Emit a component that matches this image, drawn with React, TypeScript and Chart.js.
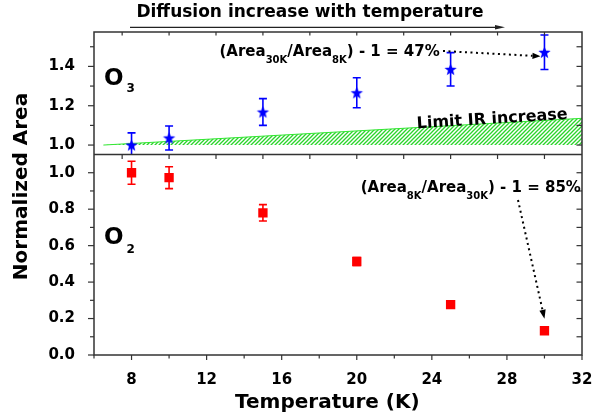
import React, { useEffect, useRef } from 'react';
import { Chart, registerables } from 'chart.js';

Chart.register(...registerables);

// ---- data ----
const temperatures = [8, 10, 15, 20, 25, 30];
const o3Area = [1.0, 1.036, 1.168, 1.266, 1.385, 1.472];
const o3Error = [0.062, 0.061, 0.068, 0.076, 0.085, 0.088];
const o2Area = [1.0, 0.973, 0.78, 0.513, 0.276, 0.133];
const o2Error = [0.063, 0.06, 0.045, 0.022, 0.012, 0.008];
const irLimitT = [6.5, 32];
const irLimitTop = [1.0, 1.136];
const irLimitBase = 1.0;

// ---- ticks ----
const xTickValues = [8, 12, 16, 20, 24, 28, 32];
const xMinorValues = [6, 10, 14, 18, 22, 26, 30];
const xPanelTickValues = [7.5, 10, 12.5, 15, 17.5, 20, 22.5, 25, 27.5, 30];
const o3TickValues = [1.0, 1.2, 1.4];
const o3MinorValues = [1.1, 1.3, 1.5];
const o2TickValues = [0, 0.2, 0.4, 0.6, 0.8, 1.0];
const o2MinorValues = [0.1, 0.3, 0.5, 0.7, 0.9];

const FONT = '"DejaVu Sans", "Liberation Sans", sans-serif';
const FRAME = '#333333';

function makeStar(color: string, R: number, r: number) {
  const c = document.createElement('canvas');
  const s = Math.ceil(R * 2) + 2;
  c.width = s;
  c.height = s;
  const ctx = c.getContext('2d')!;
  ctx.fillStyle = color;
  ctx.beginPath();
  for (let i = 0; i < 10; i++) {
    const rad = i % 2 === 0 ? R : r;
    const a = -Math.PI / 2 + (i * Math.PI) / 5;
    const px = s / 2 + rad * Math.cos(a);
    const py = s / 2 + 0.5 + rad * Math.sin(a);
    if (i === 0) ctx.moveTo(px, py);
    else ctx.lineTo(px, py);
  }
  ctx.closePath();
  ctx.fill();
  return c;
}

function makeHatch() {
  const c = document.createElement('canvas');
  c.width = 4;
  c.height = 4;
  const ctx = c.getContext('2d')!;
  ctx.fillStyle = '#ffffff';
  ctx.fillRect(0, 0, 4, 4);
  ctx.strokeStyle = '#2bd42b';
  ctx.lineWidth = 1.3;
  ctx.beginPath();
  ctx.moveTo(-1, 5);
  ctx.lineTo(5, -1);
  ctx.moveTo(-1, 1);
  ctx.lineTo(1, -1);
  ctx.moveTo(3, 5);
  ctx.lineTo(5, 3);
  ctx.stroke();
  return ctx.createPattern(c, 'repeat');
}

function drawRich(ctx: CanvasRenderingContext2D, x: number, y: number, parts: [string, boolean][]) {
  let cx = x;
  ctx.textAlign = 'left';
  ctx.textBaseline = 'alphabetic';
  for (const [text, sub] of parts) {
    ctx.font = sub ? `bold 10px ${FONT}` : `bold 15px ${FONT}`;
    ctx.fillText(text, cx, sub ? y + 7 : y);
    cx += ctx.measureText(text).width;
  }
}

function drawArrow(
  ctx: CanvasRenderingContext2D,
  x1: number, y1: number, x2: number, y2: number,
  dotted: boolean, headLen: number, headHalf: number, color: string
) {
  const ang = Math.atan2(y2 - y1, x2 - x1);
  const c = Math.cos(ang), s = Math.sin(ang);
  ctx.save();
  ctx.strokeStyle = color;
  ctx.lineWidth = dotted ? 2 : 1.2;
  if (dotted) ctx.setLineDash([2, 3.5]);
  ctx.beginPath();
  ctx.moveTo(x1, y1);
  ctx.lineTo(x2 - headLen * c, y2 - headLen * s);
  ctx.stroke();
  ctx.setLineDash([]);
  ctx.fillStyle = color;
  ctx.beginPath();
  ctx.moveTo(x2, y2);
  ctx.lineTo(x2 - headLen * c + headHalf * s, y2 - headLen * s - headHalf * c);
  ctx.lineTo(x2 - headLen * c - headHalf * s, y2 - headLen * s + headHalf * c);
  ctx.closePath();
  ctx.fill();
  ctx.restore();
}

const errorBarPlugin = {
  id: 'errorBars',
  afterDatasetsDraw(chart: any) {
    const ctx = chart.ctx as CanvasRenderingContext2D;
    const xs = chart.scales.x;
    const panels = [
      { scale: chart.scales.yTop, vals: o3Area, errs: o3Error, color: '#0000ff' },
      { scale: chart.scales.yBottom, vals: o2Area, errs: o2Error, color: '#ff0000' },
    ];
    for (const p of panels) {
      ctx.save();
      ctx.beginPath();
      ctx.rect(chart.chartArea.left, p.scale.top, chart.chartArea.right - chart.chartArea.left, p.scale.bottom - p.scale.top);
      ctx.clip();
      ctx.strokeStyle = p.color;
      ctx.lineWidth = 1.6;
      temperatures.forEach((t, i) => {
        const x = xs.getPixelForValue(t);
        const yh = p.scale.getPixelForValue(p.vals[i] + p.errs[i]);
        const yl = p.scale.getPixelForValue(p.vals[i] - p.errs[i]);
        ctx.beginPath();
        ctx.moveTo(x, yh);
        ctx.lineTo(x, yl);
        ctx.moveTo(x - 4, yh);
        ctx.lineTo(x + 4, yh);
        ctx.moveTo(x - 4, yl);
        ctx.lineTo(x + 4, yl);
        ctx.stroke();
      });
      ctx.restore();
    }
  },
};

const decorPlugin = {
  id: 'decor',
  afterDraw(chart: any) {
    const ctx = chart.ctx as CanvasRenderingContext2D;
    const { left, right, top, bottom } = chart.chartArea;
    const xs = chart.scales.x;
    const yT = chart.scales.yTop;
    const yB = chart.scales.yBottom;
    const divider = yT.bottom;

    ctx.save();
    // frame
    ctx.strokeStyle = FRAME;
    ctx.lineWidth = 1.5;
    ctx.strokeRect(left, top, right - left, bottom - top);
    ctx.beginPath();
    ctx.moveTo(left, divider);
    ctx.lineTo(right, divider);
    ctx.stroke();

    // tick marks
    ctx.lineWidth = 1.2;
    const tick = (x1: number, y1: number, x2: number, y2: number) => {
      ctx.beginPath();
      ctx.moveTo(x1, y1);
      ctx.lineTo(x2, y2);
      ctx.stroke();
    };
    xPanelTickValues.forEach((v) => {
      const x = xs.getPixelForValue(v);
      tick(x, top, x, top + 3.5);
      tick(x, divider, x, divider + 4.5);
    });
    xTickValues.forEach((v) => {
      const x = xs.getPixelForValue(v);
      tick(x, bottom, x, bottom + 5);
    });
    xMinorValues.forEach((v) => {
      const x = xs.getPixelForValue(v);
      tick(x, bottom, x, bottom + 3.5);
    });
    o3TickValues.forEach((v) => {
      const y = yT.getPixelForValue(v);
      tick(left - 6, y, left, y);
    });
    o3MinorValues.forEach((v) => {
      const y = yT.getPixelForValue(v);
      tick(left - 4, y, left, y);
    });
    [...o3TickValues, ...o3MinorValues].forEach((v) => {
      const y = yT.getPixelForValue(v);
      tick(right - 5.5, y, right, y);
    });
    o2TickValues.forEach((v) => {
      const y = yB.getPixelForValue(v);
      tick(left - 6, y, left, y);
    });
    o2MinorValues.forEach((v) => {
      const y = yB.getPixelForValue(v);
      tick(left - 4, y, left, y);
    });
    [...o2TickValues, ...o2MinorValues].filter((v) => v > 0).forEach((v) => {
      const y = yB.getPixelForValue(v);
      tick(right - 5.5, y, right, y);
    });

    ctx.fillStyle = '#000';
    // title & arrow
    ctx.font = `bold 17px ${FONT}`;
    ctx.textAlign = 'center';
    ctx.textBaseline = 'alphabetic';
    ctx.fillText('Diffusion increase with temperature', 310, 16.5);
    drawArrow(ctx, 130, 27.3, 505, 27.3, false, 10, 2.3, '#222');

    // O3 / O2 labels
    ctx.textAlign = 'left';
    ctx.font = `bold 23px ${FONT}`;
    ctx.fillText('O', 104, 85);
    ctx.fillText('O', 104, 244.3);
    ctx.font = `bold 12px ${FONT}`;
    ctx.fillText('3', 126.5, 91.5);
    ctx.fillText('2', 126.5, 252.5);

    // ratio annotations
    drawRich(ctx, 219.5, 55.7, [['(Area', false], ['30K', true], ['/Area', false], ['8K', true], [') - 1 = 47%', false]]);
    drawRich(ctx, 360.7, 191.7, [['(Area', false], ['8K', true], ['/Area', false], ['30K', true], [') - 1 = 85%', false]]);

    const x30 = xs.getPixelForValue(temperatures[5]);
    drawArrow(ctx, 443, 51, x30 - 4, yT.getPixelForValue(o3Area[5]) + 4, true, 8, 3.2, '#000');
    drawArrow(ctx, 518, 200, x30, yB.getPixelForValue(o2Area[5]) - 12, true, 9, 3.2, '#000');

    // Limit IR increase
    ctx.save();
    ctx.translate(417, 128.3);
    ctx.rotate((-3.6 * Math.PI) / 180);
    ctx.font = `bold 16px ${FONT}`;
    ctx.textAlign = 'left';
    ctx.fillText('Limit IR increase', 0, 0);
    ctx.restore();

    // axis titles
    ctx.font = `bold 20px ${FONT}`;
    ctx.textAlign = 'left';
    ctx.fillText('Temperature (K)', 235, 407.5);
    ctx.save();
    ctx.translate(27, 186.5);
    ctx.rotate(-Math.PI / 2);
    ctx.textAlign = 'center';
    ctx.fillText('Normalized Area', 0, 0);
    ctx.restore();

    ctx.restore();
  },
};

export default function App() {
  const ref = useRef<HTMLCanvasElement | null>(null);

  useEffect(() => {
    document.body.style.margin = '0';
    const canvas = ref.current!;
    const star = makeStar('#0000ff', 6.5, 2.7);
    const hatch = makeHatch();
    const tickFont = { family: FONT, size: 15, weight: 'bold' as const };
    const fmt = (v: any) => Number(v).toFixed(1);

    const chart = new Chart(canvas, {
      type: 'scatter',
      data: {
        datasets: [
          {
            label: 'O3',
            data: temperatures.map((t, i) => ({ x: t, y: o3Area[i] })),
            yAxisID: 'yTop',
            pointStyle: star as any,
            pointRadius: 6,
            pointBackgroundColor: '#0000ff',
            pointBorderColor: '#0000ff',
            showLine: false,
          },
          {
            label: 'O2',
            data: temperatures.map((t, i) => ({ x: t, y: o2Area[i] })),
            yAxisID: 'yBottom',
            pointStyle: 'rect',
            pointRadius: 6.6,
            pointBorderWidth: 0,
            pointBackgroundColor: '#ff0000',
            pointBorderColor: '#ff0000',
            showLine: false,
          },
          {
            label: 'Limit IR increase',
            type: 'line',
            data: irLimitT.map((t, i) => ({ x: t, y: irLimitTop[i] })),
            yAxisID: 'yTop',
            borderColor: '#33e633',
            borderWidth: 1,
            pointRadius: 0,
            backgroundColor: hatch as any,
            fill: { value: irLimitBase },
            tension: 0,
          } as any,
        ],
      },
      options: {
        responsive: false,
        animation: false,
        layout: { padding: { top: 32, right: 10, left: 0, bottom: 0 } },
        plugins: { legend: { display: false }, tooltip: { enabled: false }, title: { display: false } },
        scales: {
          x: {
            type: 'linear',
            position: 'bottom',
            min: 6,
            max: 32,
            grid: { display: false },
            border: { display: false },
            ticks: { font: tickFont, color: '#000', padding: 8, maxRotation: 0 },
            afterBuildTicks: (s: any) => {
              s.ticks = xTickValues.map((v) => ({ value: v }));
            },
            afterFit: (s: any) => {
              s.height = 62;
              s.paddingLeft = 0;
              s.paddingRight = 0;
            },
          },
          yBottom: {
            type: 'linear',
            position: 'left',
            stack: 'panels',
            stackWeight: 200.5,
            min: 0,
            max: 1.1,
            grid: { display: false },
            border: { display: false },
            ticks: { font: tickFont, color: '#000', padding: 11, callback: fmt },
            afterBuildTicks: (s: any) => {
              s.ticks = o2TickValues.map((v) => ({ value: v }));
            },
            afterFit: (s: any) => {
              s.width = 94;
              s.paddingTop = 0;
              s.paddingBottom = 0;
            },
          },
          yTop: {
            type: 'linear',
            position: 'left',
            stack: 'panels',
            stackWeight: 122.5,
            min: 0.952,
            max: 1.575,
            grid: { display: false },
            border: { display: false },
            ticks: { font: tickFont, color: '#000', padding: 11, callback: fmt },
            afterBuildTicks: (s: any) => {
              s.ticks = o3TickValues.map((v) => ({ value: v }));
            },
            afterFit: (s: any) => {
              s.width = 94;
              s.paddingTop = 0;
              s.paddingBottom = 0;
            },
          },
        } as any,
      },
      plugins: [errorBarPlugin, decorPlugin],
    });
    return () => chart.destroy();
  }, []);

  return (
    <div style={{ width: 592, height: 417, background: '#fff' }}>
      <canvas ref={ref} width={592} height={417} style={{ display: 'block' }} />
    </div>
  );
}
